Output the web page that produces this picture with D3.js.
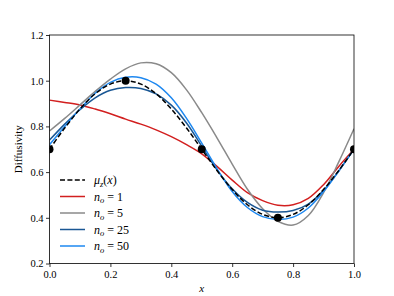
<!DOCTYPE html>
<html>
<head>
<meta charset="utf-8">
<script src="https://cdn.jsdelivr.net/npm/d3@7"></script>
<style>
  body { margin: 0; background: #fff; }
  svg, svg text { font-family: "Liberation Serif", serif; }
</style>
</head>
<body>
<div id="chart"></div>
<script>
// sample positions along x
const xs = [0, 0.05, 0.1, 0.15, 0.2, 0.25, 0.3, 0.35, 0.4, 0.45, 0.5,
  0.55, 0.6, 0.65, 0.7, 0.75, 0.8, 0.85, 0.9, 0.95, 1.0];

const muZ = [0.70, 0.793, 0.876, 0.943, 0.985, 1.0, 0.985, 0.943, 0.876, 0.793, 0.70,
  0.607, 0.524, 0.457, 0.415, 0.40, 0.415, 0.457, 0.524, 0.607, 0.70];
const n1 = [0.915, 0.905, 0.894, 0.876, 0.855, 0.832, 0.81, 0.785, 0.755, 0.72, 0.68,
  0.625, 0.565, 0.51, 0.475, 0.455, 0.457, 0.485, 0.545, 0.625, 0.70];
const n5 = [0.78, 0.835, 0.894, 0.953, 1.007, 1.052, 1.078, 1.074, 1.035, 0.96, 0.86,
  0.75, 0.635, 0.525, 0.44, 0.385, 0.368, 0.41, 0.51, 0.645, 0.79];
const n25 = [0.74, 0.81, 0.873, 0.925, 0.958, 0.970, 0.966, 0.942, 0.893, 0.815, 0.713,
  0.61, 0.527, 0.467, 0.433, 0.425, 0.432, 0.46, 0.52, 0.605, 0.70];
const n50 = [0.72, 0.80, 0.876, 0.945, 0.993, 1.015, 1.013, 0.985, 0.925, 0.835, 0.727,
  0.615, 0.515, 0.445, 0.405, 0.393, 0.403, 0.443, 0.515, 0.605, 0.70];

// observed points
const obsX = [0, 0.25, 0.5, 0.75, 1.0];
const obsY = [0.7, 1.0, 0.7, 0.4, 0.7];

const xTicks = [0, 0.2, 0.4, 0.6, 0.8, 1.0];
const yTicks = [0.2, 0.4, 0.6, 0.8, 1.0, 1.2];

const series = [
  {name: 'mu', values: muZ, color: '#000', dash: '5,2.4'},
  {name: 'n1', label: '1', values: n1, color: '#d21f1f'},
  {name: 'n5', label: '5', values: n5, color: '#8a8a8a'},
  {name: 'n25', label: '25', values: n25, color: '#1a5794'},
  {name: 'n50', label: '50', values: n50, color: '#1e88f0'}
];

const W = 394, H = 296;
const margin = {top: 35, right: 40, bottom: 32.5, left: 49.5};
const width = W - margin.left - margin.right;
const height = H - margin.top - margin.bottom;

const svg = d3.select('#chart').append('svg')
  .attr('width', W)
  .attr('height', H);

const g = svg.append('g')
  .attr('transform', 'translate(' + margin.left + ',' + margin.top + ')');

const x = d3.scaleLinear().domain([0, 1]).range([0, width]);
const y = d3.scaleLinear().domain([0.2, 1.2]).range([height, 0]);

g.append('clipPath').attr('id', 'clip')
  .append('rect').attr('width', width).attr('height', height);

const line = d3.line()
  .x((d) => x(d[0]))
  .y((d) => y(d[1]))
  .curve(d3.curveCatmullRom.alpha(0.5));

const plot = g.append('g').attr('clip-path', 'url(#clip)');

// draw the n_o curves first, then the mean on top
series.slice(1).concat(series.slice(0, 1)).forEach((s) => {
  plot.append('path')
    .datum(xs.map((v, i) => [v, s.values[i]]))
    .attr('fill', 'none')
    .attr('stroke', s.color)
    .attr('stroke-width', 1.5)
    .attr('stroke-dasharray', s.dash || null)
    .attr('d', line);
});

plot.selectAll('.point')
  .data(obsX.map((v, i) => [v, obsY[i]]))
  .enter().append('circle')
  .attr('class', 'point')
  .attr('cx', (d) => x(d[0]))
  .attr('cy', (d) => y(d[1]))
  .attr('r', 4)
  .attr('fill', '#000');

// axes
const xAxis = g.append('g')
  .attr('transform', 'translate(0,' + height + ')')
  .call(d3.axisBottom(x).tickValues(xTicks).tickFormat(d3.format('.1f')).tickSize(3.5).tickPadding(3.5));

const yAxis = g.append('g')
  .call(d3.axisLeft(y).tickValues(yTicks).tickFormat(d3.format('.1f')).tickSize(3.5).tickPadding(2.5));

[xAxis, yAxis].forEach((a) => {
  a.attr('font-family', null).attr('font-size', null);
  a.select('.domain').remove();
  a.selectAll('line').attr('stroke', '#000').attr('stroke-width', 0.8);
  a.selectAll('text').attr('fill', '#000')
    .style('font-size', '10.5px');
});

// frame
g.append('rect')
  .attr('width', width)
  .attr('height', height)
  .attr('fill', 'none')
  .attr('stroke', '#000')
  .attr('stroke-width', 0.8);

// axis labels
svg.append('text')
  .attr('x', margin.left + width / 2)
  .attr('y', 292)
  .attr('text-anchor', 'middle')
  .style('font-size', '11px')
  .attr('font-style', 'italic')
  .text('x');

svg.append('text')
  .attr('transform', 'translate(21.5,' + (margin.top + height / 2) + ') rotate(-90)')
  .attr('text-anchor', 'middle')
  .style('font-size', '11px')
  .text('Diffusivity');

// legend
const legend = g.append('g')
  .attr('transform', 'translate(10.5,' + (180 - margin.top) + ')');

series.forEach((s, i) => {
  const row = legend.append('g').attr('transform', 'translate(0,' + (i * 16.5) + ')');
  row.append('line')
    .attr('x1', 0).attr('x2', 25)
    .attr('stroke', s.color)
    .attr('stroke-width', 1.5)
    .attr('stroke-dasharray', s.dash || null);
  const t = row.append('text')
    .attr('x', 34)
    .attr('y', 4)
    .style('font-size', '12px');
  if (s.name === 'mu') {
    t.append('tspan').attr('font-style', 'italic').text('μ');
    t.append('tspan').attr('font-style', 'italic').style('font-size', '8.5px').attr('dy', 2.5).text('z');
    t.append('tspan').attr('dy', -2.5).text('(');
    t.append('tspan').attr('font-style', 'italic').text('x');
    t.append('tspan').text(')');
  } else {
    t.append('tspan').attr('font-style', 'italic').text('n');
    t.append('tspan').attr('font-style', 'italic').style('font-size', '8.5px').attr('dy', 2.5).text('o');
    t.append('tspan').attr('dy', -2.5).text(' = ' + s.label);
  }
});
</script>
</body>
</html>
